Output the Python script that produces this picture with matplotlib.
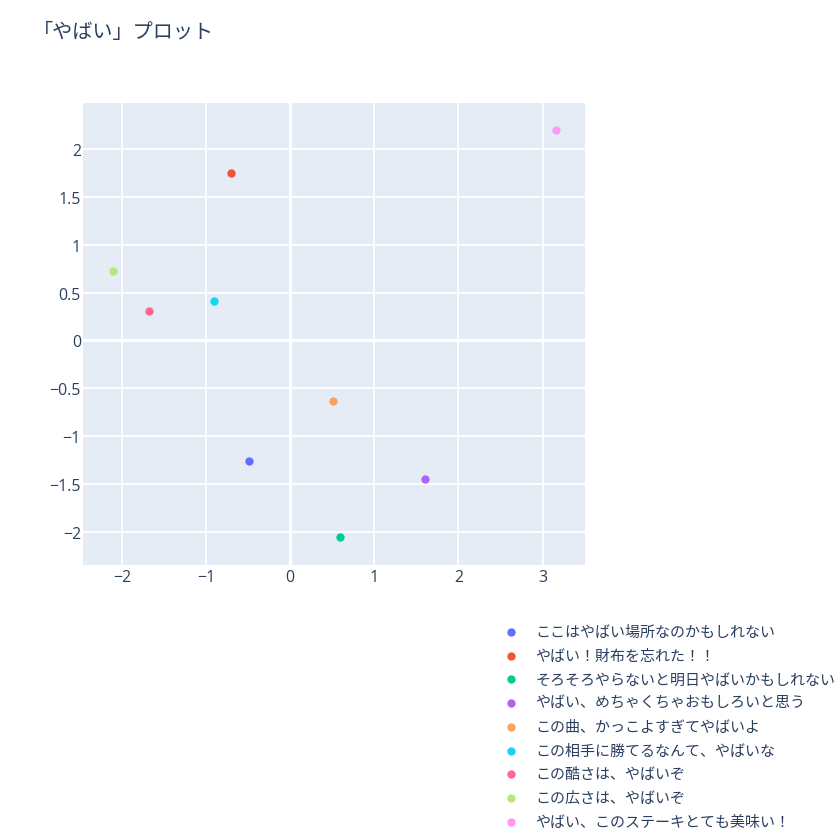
import matplotlib
matplotlib.use("Agg")
import matplotlib.pyplot as plt

plt.rcParams['font.family'] = ['Noto Sans CJK JP', 'DejaVu Sans']

labels = [
    "ここはやばい場所なのかもしれない",
    "やばい！財布を忘れた！！",
    "そろそろやらないと明日やばいかもしれない",
    "やばい、めちゃくちゃおもしろいと思う",
    "この曲、かっこよすぎてやばいよ",
    "この相手に勝てるなんて、やばいな",
    "この酷さは、やばいぞ",
    "この広さは、やばいぞ",
    "やばい、このステーキとても美味い！",
]
x_vals = [-0.495, -0.706, 0.591, 1.605, 0.509, -0.905, -1.682, -2.111, 3.155]
y_vals = [-1.258, 1.749, -2.056, -1.453, -0.629, 0.415, 0.307, 0.725, 2.202]
colors = ['#636EFA', '#EF553B', '#00CC96', '#AB63FA', '#FFA15A',
          '#19D3F3', '#FF6692', '#B6E880', '#FF97FF']

x_ticks = [-2, -1, 0, 1, 2, 3]
y_ticks = [-2, -1.5, -1, -0.5, 0, 0.5, 1, 1.5, 2]

W, H = 840, 837
fig = plt.figure(figsize=(W / 100, H / 100), dpi=100)
ax = fig.add_axes([83 / W, 1 - 566 / H, 502 / W, 462 / H])
ax.set_facecolor('#E5ECF6')

for lab, xv, yv, c in zip(labels, x_vals, y_vals, colors):
    ax.scatter([xv], [yv], s=36, color=c, label=lab, zorder=3, linewidths=0)

ax.set_xlim(-2.464, 3.505)
ax.set_ylim(-2.349, 2.484)
ax.set_xticks(x_ticks)
ax.set_yticks(y_ticks)
ax.set_xticklabels([f"{v:g}".replace('-', '\u2212') for v in x_ticks])
ax.set_yticklabels([f"{v:g}".replace('-', '\u2212') for v in y_ticks])
ax.grid(True, color='white', linewidth=1.3, zorder=1)
ax.set_axisbelow(True)
ax.axvline(0, color='white', linewidth=2.2, zorder=2)
ax.axhline(0, color='white', linewidth=2.2, zorder=2)
for s in ax.spines.values():
    s.set_visible(False)
ax.tick_params(length=0, labelsize=11.4, labelcolor='#2a3f5f')
ax.tick_params(axis='x', pad=3)
ax.tick_params(axis='y', pad=1.5)
for t in ax.get_xticklabels() + ax.get_yticklabels():
    t.set_family(['Open Sans', 'DejaVu Sans'])

fig.text(33 / W, 1 - 33 / H, "「やばい」プロット", fontsize=14.5, color='#2a3f5f',
         va='center', ha='left')

leg = fig.legend(loc='upper left', bbox_to_anchor=(503.5 / W, 1 - 626 / H),
                 frameon=False, fontsize=10.8, handlelength=1.0, handletextpad=1.1,
                 borderpad=0, borderaxespad=0, labelspacing=0.64, scatterpoints=1)
for t in leg.get_texts():
    t.set_color('#2a3f5f')

fig.savefig("out.png", dpi=100)
